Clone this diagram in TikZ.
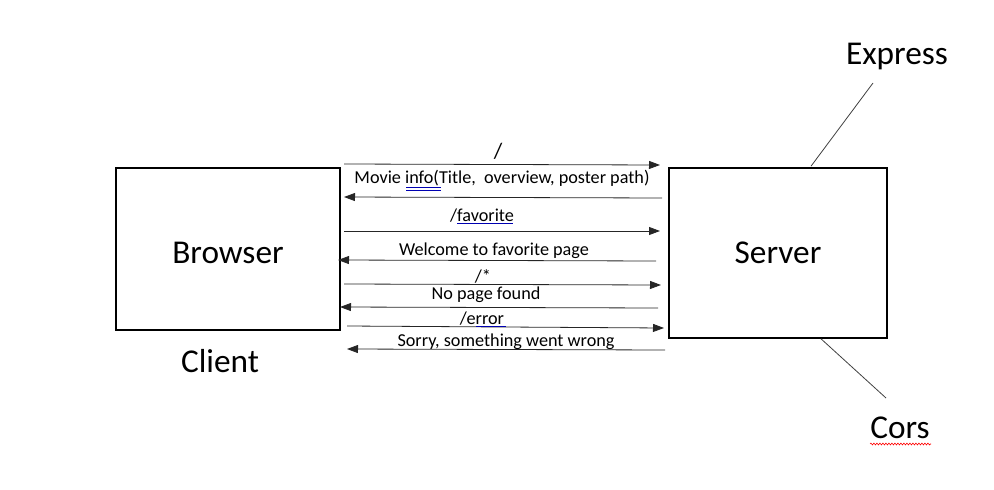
\documentclass[tikz,border=0pt]{standalone}
\usepackage{fontspec}
\setmainfont{Carlito}
\usetikzlibrary{arrows.meta,decorations.pathmorphing}
\begin{document}
\begin{tikzpicture}[x=1pt,y=-1pt,
  box/.style={draw=black,line width=1.6pt,inner sep=0pt},
  big/.style={font=\fontsize{33.3}{38}\selectfont,anchor=base,inner sep=0pt},
  lbl/.style={font=\fontsize{18.2}{21}\selectfont,anchor=base,inner sep=0pt},
  msg/.style={draw=black!85,line width=0.8pt,-{Triangle[length=11pt,width=8pt]}},
  tie/.style={draw=black!75,line width=0.8pt},
  proofline/.style={draw=blue!70!black,line width=0.6pt},
  squiggle/.style={draw=red,line width=0.6pt,decorate,
    decoration={snake,amplitude=0.9pt,segment length=3pt}}]
% canvas
\path[use as bounding box] (0,0) rectangle (994,490);

% the two parties
\node[box,minimum width=224pt,minimum height=162pt] (browser) at (228,249) {};
\node[box,minimum width=218pt,minimum height=170pt] (server) at (778,253) {};
\node[big] (browsertxt) at (228,263) {Browser};
\node[big] (servertxt) at (778,263) {Server};
\node[big] (client) at (220,372) {Client};
\node[big] (express) at (897,64) {Express};
\node[big] (cors) at (900,438) {Cors};

% middleware ties
\coordinate (expressfoot) at (873,83);
\coordinate (corsfoot) at (886,398);
\draw[tie] (server.north west -| 811,0) ++(0,-1) coordinate (expresstop) -- (expressfoot);
\draw[tie] (server.south west -| 821,0) coordinate (corstop) -- (corsfoot);

% request / response endpoints
\coordinate (b1) at (344,164); \coordinate (s1) at (660,165);
\coordinate (s2) at (662,198); \coordinate (b2) at (344,197);
\coordinate (b3) at (344,231); \coordinate (s3) at (660,231);
\coordinate (s4) at (656,261); \coordinate (b4) at (338,260);
\coordinate (b5) at (344,284); \coordinate (s5) at (661,285);
\coordinate (s6) at (658,308); \coordinate (b6) at (340,307);
\coordinate (b7) at (347,326); \coordinate (s7) at (664,328);
\coordinate (s8) at (665,350); \coordinate (b8) at (347,349);

\draw[msg] (b1) -- (s1);
\draw[msg] (s2) -- (b2);
\draw[msg] (b3) -- (s3);
\draw[msg] (s4) -- (b4);
\draw[msg] (b5) -- (s5);
\draw[msg] (s6) -- (b6);
\draw[msg] (b7) -- (s7);
\draw[msg] (s8) -- (b8);

% message labels
\node[lbl,font=\fontsize{22}{24}\selectfont] (m1) at (498,158) {/};
\node[lbl] (m2) at (502,183) {Movie info(Title,\ \ overview, poster path)};
\node[lbl] (m3) at (482,221) {/favorite};
\node[lbl] (m4) at (494,255) {Welcome to favorite page};
\node[lbl] (m5) at (483,282) {/*};
\node[lbl] (m6) at (486,299) {No page found};
\node[lbl] (m7) at (482,324) {/error};
\node[lbl] (m8) at (506,346) {Sorry, something went wrong};

% proofing marks
\draw[proofline] (406,187.5) -- (441,187.5);
\draw[proofline] (406,190) -- (441,190);
\draw[proofline] (457,223) -- (513,223);
\draw[proofline] (476,326.5) -- (506,326.5);
\draw[squiggle] (870,444) -- (931,444);
\end{tikzpicture}
\end{document}
